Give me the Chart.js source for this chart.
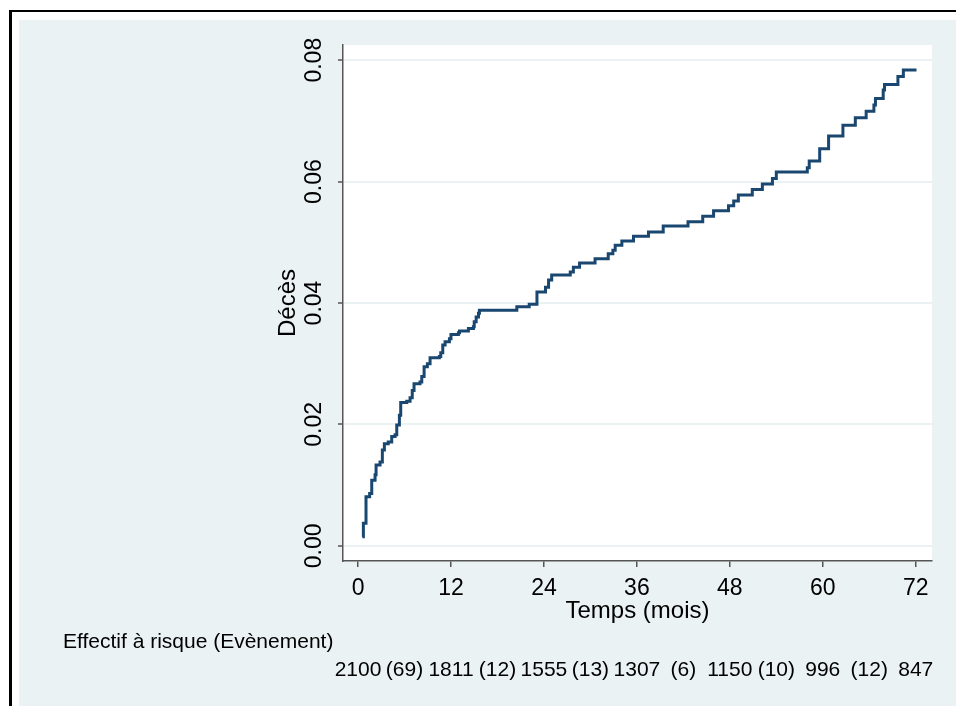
<!DOCTYPE html>
<html lang="fr">
<head>
<meta charset="utf-8">
<title>Courbe de mortalité cumulée</title>
<script src="https://cdn.jsdelivr.net/npm/chart.js@4.4.1/dist/chart.umd.min.js"></script>
<style>
  html, body { margin: 0; padding: 0; background: #ffffff; overflow: hidden; }
  #chart { display: block; }
</style>
</head>
<body>
<canvas id="chart" width="956" height="706"></canvas>
<script>
// Kaplan-Meier failure estimate: event times (months) and cumulative failure after each jump
const eventTimes = [
  0.56, 0.69, 1.03, 1.50, 1.77, 2.20, 2.33, 2.84, 3.14, 3.40, 3.90, 4.35, 4.78, 5.00,
  5.34, 5.51, 6.29, 6.72, 7.00, 7.23, 8.00, 8.23, 8.53, 8.95, 9.30, 10.50, 10.68, 10.94,
  11.24, 11.80, 12.00, 12.96, 13.10, 14.25, 14.90, 15.00, 15.25, 15.55, 15.67, 20.50,
  22.10, 23.10, 24.20, 24.60, 25.00, 27.40, 27.80, 28.60, 30.60, 32.30, 32.90, 33.20,
  34.06, 35.56, 37.50, 39.40, 42.60, 44.50, 45.90, 47.83, 48.50, 49.10, 50.90, 52.20,
  53.50, 54.00, 58.00, 58.25, 59.60, 60.75, 62.60, 64.20, 65.60, 66.60, 66.80, 67.80,
  67.97, 69.70, 70.40, 72.10
];
const failure = [
  0.0015, 0.0037, 0.0081, 0.0086, 0.0108, 0.0117, 0.0133, 0.0138, 0.0158, 0.0168, 0.0171, 0.0180, 0.0183, 0.0199,
  0.0215, 0.0236, 0.0238, 0.0244, 0.0256, 0.0267, 0.0270, 0.0279, 0.0295, 0.0300, 0.0310, 0.0312, 0.0318, 0.0331,
  0.0336, 0.0341, 0.0348, 0.0351, 0.0354, 0.0358, 0.0361, 0.0369, 0.0377, 0.0383, 0.0388, 0.0394,
  0.0398, 0.0418, 0.0426, 0.0438, 0.0446, 0.0451, 0.0459, 0.0466, 0.0473, 0.0481, 0.0487, 0.0495,
  0.0502, 0.0510, 0.0517, 0.0527, 0.0534, 0.0543, 0.0552, 0.0560, 0.0568, 0.0578, 0.0587, 0.0596,
  0.0605, 0.0616, 0.0623, 0.0634, 0.0654, 0.0675, 0.0693, 0.0705, 0.0716, 0.0726, 0.0737, 0.0751,
  0.0760, 0.0773, 0.0784, 0.0784
];

// Axis ticks
const xTicks = [0, 12, 24, 36, 48, 60, 72];
const yTicks = [0, 0.02, 0.04, 0.06, 0.08];

// Number at risk at each tick, and events within each interval
const riskTimes = [0, 12, 24, 36, 48, 60, 72];
const atRisk = [2100, 1811, 1555, 1307, 1150, 996, 847];
const eventTimesMid = [6, 18, 30, 42, 54, 66];
const eventsInInterval = [69, 12, 13, 6, 10, 12];
const riskTitle = 'Effectif à risque (Evènement)';

const FONT = '"Liberation Sans", Arial, Helvetica, sans-serif';

// Outer frame, tinted graph region and white plot region
const plotBackground = {
  id: 'plotBackground',
  beforeDraw(chart) {
    const { ctx, chartArea: a, width, height } = chart;
    ctx.save();
    ctx.fillStyle = '#ffffff';
    ctx.fillRect(0, 0, width, height);
    ctx.fillStyle = '#000000';
    ctx.fillRect(9, 10, 3, height - 10);
    ctx.fillRect(9, 10, width - 9, 2);
    ctx.fillStyle = '#EAF2F3';
    ctx.fillRect(19, 20, width - 19, height - 20);
    ctx.fillStyle = '#ffffff';
    ctx.fillRect(a.left, a.top, a.right - a.left, a.bottom - a.top);
    ctx.restore();
  }
};

// Number-at-risk table under the time axis, aligned on the x scale
const riskTable = {
  id: 'riskTable',
  afterDraw(chart) {
    const { ctx } = chart;
    const xs = chart.scales.x;
    ctx.save();
    ctx.fillStyle = '#000';
    ctx.font = '21px ' + FONT;
    ctx.textBaseline = 'alphabetic';
    ctx.textAlign = 'left';
    ctx.fillText(riskTitle, 63, 648);
    ctx.textAlign = 'center';
    riskTimes.forEach((t, i) => ctx.fillText(String(atRisk[i]), xs.getPixelForValue(t), 676));
    eventTimesMid.forEach((t, i) => ctx.fillText('(' + eventsInInterval[i] + ')', xs.getPixelForValue(t), 676));
    ctx.restore();
  }
};

new Chart(document.getElementById('chart'), {
  type: 'line',
  data: {
    datasets: [{
      data: eventTimes.map((t, i) => ({ x: t, y: failure[i] })),
      borderColor: '#1A476F',
      borderWidth: 3,
      pointRadius: 0,
      fill: false,
      stepped: 'before',
      tension: 0
    }]
  },
  options: {
    responsive: false,
    animation: false,
    devicePixelRatio: 1,
    layout: { padding: { left: 0, top: 45, right: 24, bottom: 0 } },
    plugins: { legend: { display: false }, tooltip: { enabled: false } },
    scales: {
      x: {
        type: 'linear',
        min: -1.94,
        max: 74.1,
        afterBuildTicks: s => { s.ticks = xTicks.map(v => ({ value: v })); },
        afterFit: s => { s.height = 145; },
        border: { display: true, color: '#555', width: 1.5 },
        grid: { drawOnChartArea: false, drawTicks: true, color: '#555', lineWidth: 1.5, tickLength: 6 },
        ticks: { padding: 8, maxRotation: 0, color: '#000', font: { family: FONT, size: 23 },
                 callback: v => String(v) },
        title: { display: true, text: 'Temps (mois)', color: '#000', font: { family: FONT, size: 24 },
                 padding: { top: 0, bottom: 80 } }
      },
      y: {
        type: 'linear',
        min: -0.0025,
        max: 0.0825,
        afterBuildTicks: s => { s.ticks = yTicks.map(v => ({ value: v })); },
        afterFit: s => { s.width = 343; },
        border: { display: true, color: '#555', width: 1.5 },
        grid: { color: '#EAF2F3', lineWidth: 2, drawTicks: true, tickColor: '#555', tickWidth: 1.5, tickLength: 5 },
        ticks: { minRotation: 90, maxRotation: 90, crossAlign: 'center', padding: 1, color: '#000',
                 font: { family: FONT, size: 23 }, callback: v => v.toFixed(2) },
        title: { display: true, text: 'Décès', color: '#000', font: { family: FONT, size: 24 },
                 padding: { top: 274, bottom: 0 } }
      }
    }
  },
  plugins: [plotBackground, riskTable]
});
</script>
</body>
</html>
